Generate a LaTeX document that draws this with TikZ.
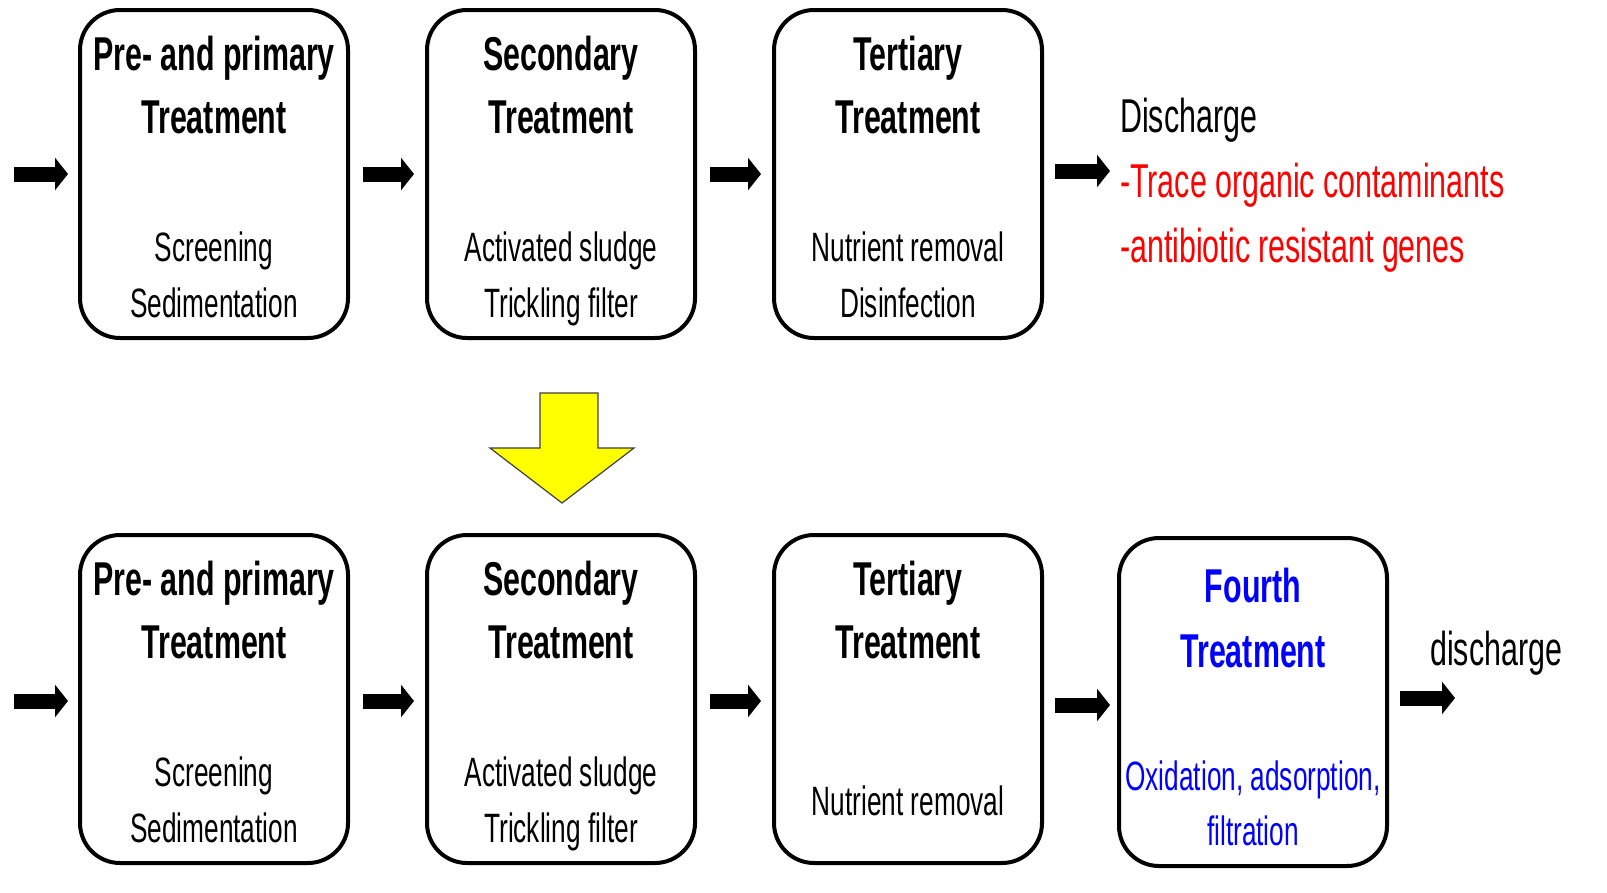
\documentclass[tikz,border=0pt]{standalone}
\usepackage{fontspec}
\newfontfamily\nf{Liberation Sans}[FakeStretch=0.64]
\usetikzlibrary{arrows.meta}
\definecolor{ared}{RGB}{255,0,0}
\definecolor{ablue}{RGB}{0,0,255}
\definecolor{ayellow}{RGB}{255,255,0}
\begin{document}
\begin{tikzpicture}[x=1pt,y=-1pt,
  box/.style={draw, line width=4pt, rounded corners=40pt, minimum width=268pt, minimum height=328pt, inner sep=0pt},
  ttl/.style={anchor=base, inner sep=0pt, font=\nf\bfseries\fontsize{47.5}{50}\selectfont},
  bdy/.style={anchor=base, inner sep=0pt, font=\nf\fontsize{41}{44}\selectfont},
  side/.style={anchor=base west, inner sep=0pt, font=\nf\fontsize{47.5}{50}\selectfont},
  flow/.style={line width=15pt, -{Triangle[length=13pt,width=32pt]}}]
\useasboundingbox (0,0) rectangle (1607,892);
\fill[white] (0,0) rectangle (1607,892);

% ---------- top row ----------
\node[box] (a1) at (214,174) {};
\node[box] (a2) at (561,174) {};
\node[box] (a3) at (908,174) {};

\node[ttl] (a1t1) at (214,70) {Pre- and primary};
\node[ttl] (a1t2) at (214,133) {Treatment};
\node[bdy] (a1b1) at (214,261) {Screening};
\node[bdy] (a1b2) at (214,317) {Sedimentation};

\node[ttl] (a2t1) at (561,70) {Secondary};
\node[ttl] (a2t2) at (561,133) {Treatment};
\node[bdy] (a2b1) at (561,261) {Activated sludge};
\node[bdy] (a2b2) at (561,317) {Trickling filter};

\node[ttl] (a3t1) at (908,70) {Tertiary};
\node[ttl] (a3t2) at (908,133) {Treatment};
\node[bdy] (a3b1) at (908,261) {Nutrient removal};
\node[bdy] (a3b2) at (908,317) {Disinfection};

\node[side] (dis1) at (1120,132) {Discharge};
\node[side, text=ared] (dis2) at (1120,197) {-Trace organic contaminants};
\node[side, text=ared] (dis3) at (1120,262) {-antibiotic resistant genes};

\coordinate (in1) at (14,174);
\draw[flow] (in1) -- ([xshift=-10pt]a1.west);
\draw[flow] ([xshift=13pt]a1.east) -- ([xshift=-11pt]a2.west);
\draw[flow] ([xshift=13pt]a2.east) -- ([xshift=-11pt]a3.west);
\draw[flow] ([shift={(11,-3)}]a3.east) -- ([shift={(66,-3)}]a3.east);

% ---------- yellow arrow ----------
\draw[fill=ayellow, draw=black!75, line width=1.2pt]
  (540,393) -- (598,393) -- (598,448) -- (634,448) -- (562,503) -- (490,448) -- (540,448) -- cycle;

% ---------- bottom row ----------
\node[box] (b1) at (214,699) {};
\node[box] (b2) at (561,699) {};
\node[box] (b3) at (908,699) {};
\node[box] (b4) at (1253,702) {};

\node[ttl] (b1t1) at (214,595) {Pre- and primary};
\node[ttl] (b1t2) at (214,658) {Treatment};
\node[bdy] (b1b1) at (214,786) {Screening};
\node[bdy] (b1b2) at (214,842) {Sedimentation};

\node[ttl] (b2t1) at (561,595) {Secondary};
\node[ttl] (b2t2) at (561,658) {Treatment};
\node[bdy] (b2b1) at (561,786) {Activated sludge};
\node[bdy] (b2b2) at (561,842) {Trickling filter};

\node[ttl] (b3t1) at (908,595) {Tertiary};
\node[ttl] (b3t2) at (908,658) {Treatment};
\node[bdy] (b3b1) at (908,815) {Nutrient removal};

\node[ttl, text=ablue] (b4t1) at (1253,602) {Fourth};
\node[ttl, text=ablue] (b4t2) at (1253,667) {Treatment};
\node[bdy, text=ablue] (b4b1) at (1253,790) {Oxidation, adsorption,};
\node[bdy, text=ablue] (b4b2) at (1253,845) {filtration};

\node[side] (dis4) at (1430,665) {discharge};

\coordinate (in2) at (14,701);
\draw[flow] (in2) -- ([shift={(-10,2)}]b1.west);
\draw[flow] ([shift={(13,2)}]b1.east) -- ([shift={(-11,2)}]b2.west);
\draw[flow] ([shift={(13,2)}]b2.east) -- ([shift={(-11,2)}]b3.west);
\draw[flow] ([shift={(11,6)}]b3.east) -- ([shift={(66,6)}]b3.east);
\draw[flow] ([shift={(11,-4)}]b4.east) -- ([shift={(66,-4)}]b4.east);
\end{tikzpicture}
\end{document}
